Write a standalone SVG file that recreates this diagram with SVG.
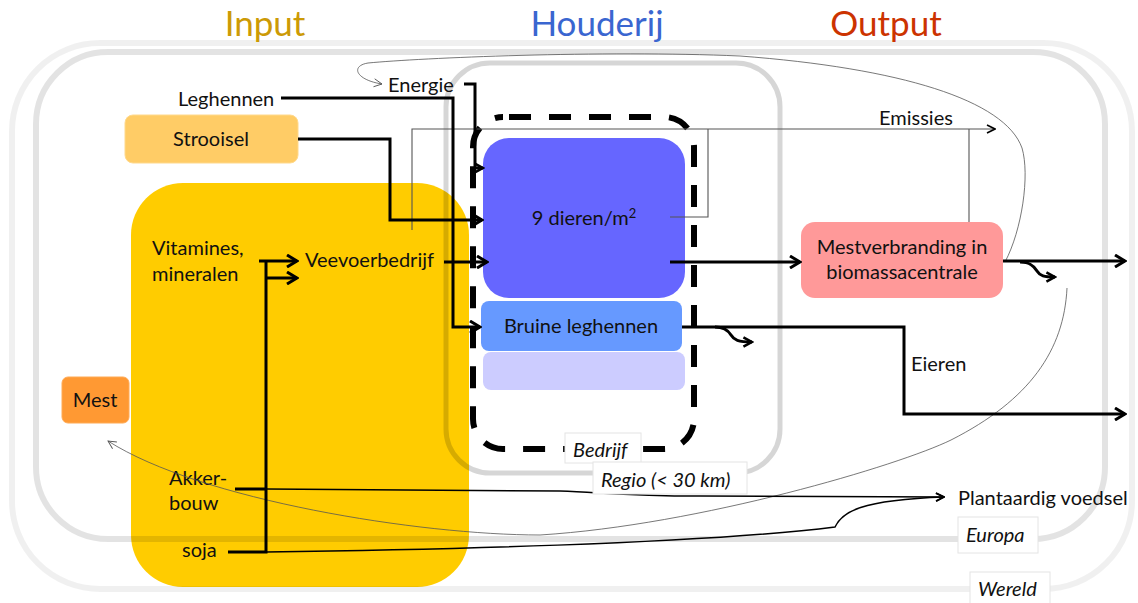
<svg xmlns="http://www.w3.org/2000/svg" width="1138" height="603" viewBox="0 0 1138 603">
  <style>
    text { font-family: Lato, "Open Sans", "Liberation Sans", sans-serif; font-size: 20px; fill: #111; }
    .title { font-size: 35px; text-anchor: middle; }
    .mid { text-anchor: middle; }
    .cap { font-style: italic; }
    .zone { fill: none; stroke: #000; }
    .tag { fill: #fff; stroke: #e4e4e4; stroke-width: 1; }
    .thick { fill: none; stroke: #000; stroke-width: 3; }
    .thin { fill: none; stroke: #000; stroke-width: 1.5; }
    .emi { fill: none; stroke: #555; stroke-width: 1.1; }
    .hair { fill: none; stroke: #555; stroke-width: 0.8; }
  </style>
  <defs>
    <marker id="chev" viewBox="0 0 14 14" refX="12" refY="7" markerWidth="14" markerHeight="14" markerUnits="userSpaceOnUse" orient="auto">
      <path d="M2,1 L12,7 L2,13" fill="none" stroke="#000" stroke-width="3"/>
    </marker>
    <marker id="chevS" viewBox="0 0 14 14" refX="12" refY="7" markerWidth="12" markerHeight="12" markerUnits="userSpaceOnUse" orient="auto">
      <path d="M2,1.5 L12,7 L2,12.5" fill="none" stroke="#000" stroke-width="3"/>
    </marker>
    <marker id="chevT" viewBox="0 0 10 10" refX="9" refY="5" markerWidth="10" markerHeight="10" markerUnits="userSpaceOnUse" orient="auto">
      <path d="M1,1 L9,5 L1,9" fill="none" stroke="#000" stroke-width="1.6"/>
    </marker>
    <marker id="chevH" viewBox="0 0 10 10" refX="9" refY="5" markerWidth="10" markerHeight="10" markerUnits="userSpaceOnUse" orient="auto">
      <path d="M1,1 L9,5 L1,9" fill="none" stroke="#555" stroke-width="0.9"/>
    </marker>
  </defs>

  <rect width="1138" height="603" fill="#fff"/>

  <!-- input area -->
  <g id="input-area">
    <rect x="131" y="183" width="338" height="404" rx="52" fill="#FFCC00"/>
  </g>

  <!-- scale frames: world, Europe, region, farm -->
  <g id="frames">
    <rect class="zone" x="12" y="43" width="1120" height="546" rx="88" stroke-width="6" stroke-opacity="0.06"/>
    <rect class="zone" x="36" y="52" width="1069" height="487" rx="72" stroke-width="6" stroke-opacity="0.11"/>
    <rect class="zone" x="446" y="63" width="334" height="410" rx="44" stroke-width="5" stroke-opacity="0.16"/>
    <rect x="473" y="117" width="221" height="332" rx="30" fill="none" stroke="#000" stroke-width="6" stroke-dasharray="22 18" stroke-dashoffset="-6"/>
  </g>

  <!-- titles -->
  <g id="titles">
    <text class="title" x="265" y="36" style="fill:#CC9A06">Input</text>
    <text class="title" x="597" y="36" style="fill:#3A66D0">Houderij</text>
    <text class="title" x="886" y="36" style="fill:#CC3300">Output</text>
  </g>

  <!-- nodes -->
  <g id="strooisel">
    <rect x="125" y="115" width="173" height="48" rx="8" fill="#FFCC66" stroke="#FFD98C" stroke-width="1"/>
    <text class="mid" x="211" y="146">Strooisel</text>
  </g>
  <g id="dieren">
    <rect x="483" y="138" width="202" height="160" rx="26" fill="#6666FF"/>
    <text class="mid" x="584" y="225">9 dieren/m<tspan font-size="13" dy="-7">2</tspan></text>
  </g>
  <g id="bruine-leghennen">
    <rect x="481" y="301" width="201" height="50" rx="8" fill="#6699FF"/>
    <text class="mid" x="581" y="333">Bruine leghennen</text>
  </g>
  <g id="lege-laag">
    <rect x="483" y="352" width="202" height="38" rx="8" fill="#CCCCFF"/>
  </g>
  <g id="mest">
    <rect x="62" y="377" width="67" height="46" rx="6" fill="#FF9933" stroke="#FFAA55" stroke-width="1"/>
    <text class="mid" x="95" y="407">Mest</text>
  </g>
  <g id="mestverbranding">
    <rect x="801" y="222" width="202" height="76" rx="14" fill="#FF9999"/>
    <text class="mid" x="902" y="254">Mestverbranding in</text>
    <text class="mid" x="902" y="279">biomassacentrale</text>
  </g>
  <g id="leghennen"><text x="178" y="106">Leghennen</text></g>
  <g id="energie"><text x="388" y="92">Energie</text></g>
  <g id="vitamines">
    <text x="152" y="255">Vitamines,</text>
    <text x="152" y="281">mineralen</text>
  </g>
  <g id="veevoerbedrijf"><text x="305" y="267">Veevoerbedrijf</text></g>
  <g id="akkerbouw">
    <text x="169" y="485">Akker-</text>
    <text x="169" y="510">bouw</text>
  </g>
  <g id="soja"><text x="182" y="557">soja</text></g>
  <g id="emissies"><text x="879" y="125">Emissies</text></g>
  <g id="eieren"><text x="911" y="371">Eieren</text></g>
  <g id="plantaardig"><text x="958" y="505">Plantaardig voedsel</text></g>

  <!-- connectors -->
  <g id="connectors">
    <!-- thin emission lines -->
    <path class="emi" d="M412,230 V129 H995" marker-end="url(#chevT)"/>
    <path class="emi" d="M670,217 H708 V129"/>
    <path class="emi" d="M969,222 V129"/>

    <!-- long loops -->
    <path class="hair" d="M1005,262 C1022,230 1030,175 1022,148 C1005,100 900,68 740,56 C600,50 420,58 368,63 C350,66 356,80 382,84" marker-end="url(#chevH)"/>
    <path class="hair" d="M1067,288 C1064,350 1030,400 951,440 C900,465 700,525 540,535 C420,535 200,500 108,441" marker-end="url(#chevH)"/>

    <!-- inputs to the farm -->
    <path class="thick" d="M281,98 H453 V327 H480" marker-end="url(#chev)"/>
    <path class="thick" d="M464,84 H475 V168 H483" marker-end="url(#chevS)"/>
    <path class="thick" d="M298,139 H390 V220 H482" marker-end="url(#chev)"/>
    <path class="thick" d="M444,262 H487" marker-end="url(#chev)"/>
    <path class="thick" d="M259,261 H297" marker-end="url(#chev)"/>
    <path class="thick" d="M228,552 H266 V261"/>
    <path class="thick" d="M266,278 H297" marker-end="url(#chev)"/>
    <path class="thick" d="M235,489 H266"/>

    <!-- crops to plant food -->
    <path class="thin" d="M266,489 L560,491 C600,492 620,496 700,496 L944,497" marker-end="url(#chevT)"/>
    <path class="thin" d="M266,552 C420,550 700,544 835,527 C842,512 860,500 944,497" marker-end="url(#chevT)"/>

    <!-- outputs -->
    <path class="thick" d="M670,262 H800" marker-end="url(#chev)"/>
    <path class="thick" d="M1003,261 H1125" marker-end="url(#chev)"/>
    <path class="thick" d="M1020,262 C1030,262 1034,266 1037,271 C1040,276 1044,277 1055,277" marker-end="url(#chevS)"/>
    <path class="thick" d="M682,327 H904 V414 H1125" marker-end="url(#chev)"/>
    <path class="thick" d="M715,327 C724,327 728,330 731,335 C734,340 738,342 752,342" marker-end="url(#chevS)"/>
  </g>

  <!-- frame captions -->
  <g id="captions">
    <rect class="tag" x="565" y="433" width="76" height="30"/>
    <text class="cap" x="573" y="457">Bedrijf</text>
    <rect class="tag" x="593" y="462" width="154" height="32"/>
    <text class="cap" x="601" y="487">Regio (&lt; 30 km)</text>
    <rect class="tag" x="958" y="517" width="80" height="36"/>
    <text class="cap" x="966" y="542">Europa</text>
    <rect class="tag" x="970" y="572" width="80" height="34"/>
    <text class="cap" x="978" y="596">Wereld</text>
  </g>
</svg>
